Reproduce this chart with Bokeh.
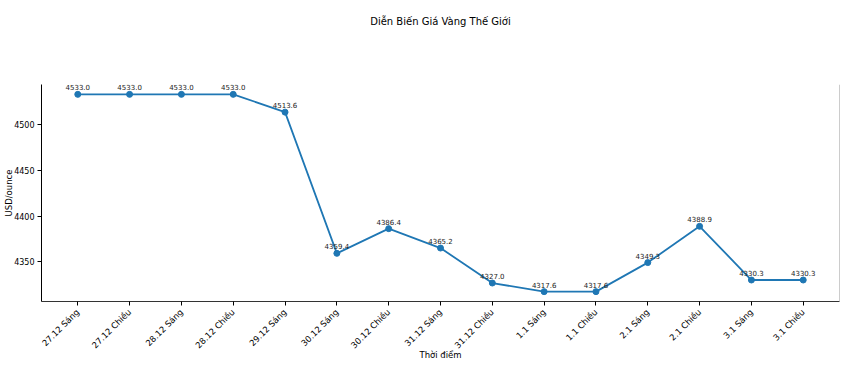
from bokeh.plotting import figure
from bokeh.models import Range1d, FixedTicker, ColumnDataSource, Span, LinearAxis
from bokeh.embed import file_html
from bokeh.resources import INLINE
from bokeh.core.properties import value
import math

labels = ["27.12 Sáng", "27.12 Chiều", "28.12 Sáng", "28.12 Chiều", "29.12 Sáng",
          "30.12 Sáng", "30.12 Chiều", "31.12 Sáng", "31.12 Chiều", "1.1 Sáng",
          "1.1 Chiều", "2.1 Sáng", "2.1 Chiều", "3.1 Sáng", "3.1 Chiều"]
prices = [4533.0, 4533.0, 4533.0, 4533.0, 4513.6,
          4359.4, 4386.4, 4365.2, 4327.0, 4317.6,
          4317.6, 4349.3, 4388.9, 4330.3, 4330.3]
y_ticks = [4350, 4400, 4450, 4500]
title_text = "Diễn Biến Giá Vàng Thế Giới"

idx = list(range(len(labels)))
src = ColumnDataSource(dict(x=idx, y=prices, t=[f"{v:.1f}" for v in prices]))

FONT = "DejaVu Sans"
COLOR = "#1f77b4"

ymin, ymax = min(prices), max(prices)
pad = (ymax - ymin) * 0.05
x_end = len(labels) - 1 + 0.7

p = figure(width=849, height=362, output_backend="svg", toolbar_location=None,
           x_range=Range1d(-0.7, x_end),
           y_range=Range1d(ymin - pad, ymax + pad),
           min_border_left=41, min_border_right=10, min_border_top=84, min_border_bottom=59)

p.line("x", "y", source=src, line_color=COLOR, line_width=1.8)
p.scatter("x", "y", source=src, size=6, fill_color=COLOR, line_color=COLOR)
p.text("x", "y", text="t", source=src, text_font=value(FONT), text_font_size="7px",
       text_align="center", text_baseline="bottom", y_offset=-4, text_color="#222222")

p.grid.visible = False
p.outline_line_color = None
p.background_fill_color = "white"
p.border_fill_color = "white"

xa = p.below[0]
xa.ticker = FixedTicker(ticks=idx)
xa.major_label_overrides = {i: l for i, l in enumerate(labels)}
xa.major_label_orientation = math.pi / 4
xa.minor_tick_line_color = None
xa.major_tick_out = 4
xa.major_tick_in = 0
xa.major_label_text_font = FONT
xa.major_label_text_font_size = "8.5px"
xa.major_label_text_color = "#000000"
xa.major_label_standoff = 5
xa.axis_label = "Thời điểm"
xa.axis_label_text_font = FONT
xa.axis_label_text_font_size = "8.5px"
xa.axis_label_text_font_style = "normal"
xa.axis_label_text_color = "#000000"
xa.axis_label_standoff = -7
xa.axis_line_color = "#333333"

ya = p.left[0]
ya.ticker = FixedTicker(ticks=y_ticks)
ya.minor_tick_line_color = None
ya.major_tick_out = 4
ya.major_tick_in = 0
ya.major_label_text_font = FONT
ya.major_label_text_font_size = "8px"
ya.major_label_text_color = "#000000"
ya.major_label_standoff = 3
ya.axis_label = "USD/ounce"
ya.axis_label_text_font = FONT
ya.axis_label_text_font_size = "8.5px"
ya.axis_label_text_font_style = "normal"
ya.axis_label_text_color = "#000000"
ya.axis_label_standoff = -3
ya.axis_line_color = "#000000"

# title drawn as the label of an empty top axis
ta = LinearAxis(ticker=FixedTicker(ticks=[]), axis_line_color=None,
                major_tick_out=0, major_tick_in=0, minor_tick_out=0, minor_tick_in=0,
                major_tick_line_color=None, minor_tick_line_color=None,
                major_label_standoff=0, major_label_text_font_size="0px",
                axis_label=title_text, axis_label_text_font=FONT,
                axis_label_text_font_size="10px", axis_label_text_font_style="normal",
                axis_label_text_color="#000000", axis_label_standoff=58)
p.add_layout(ta, "above")

p.add_layout(Span(location=x_end, dimension="height", line_color="#999999", line_width=1))

open("out.html", "w").write(file_html(p, INLINE))
